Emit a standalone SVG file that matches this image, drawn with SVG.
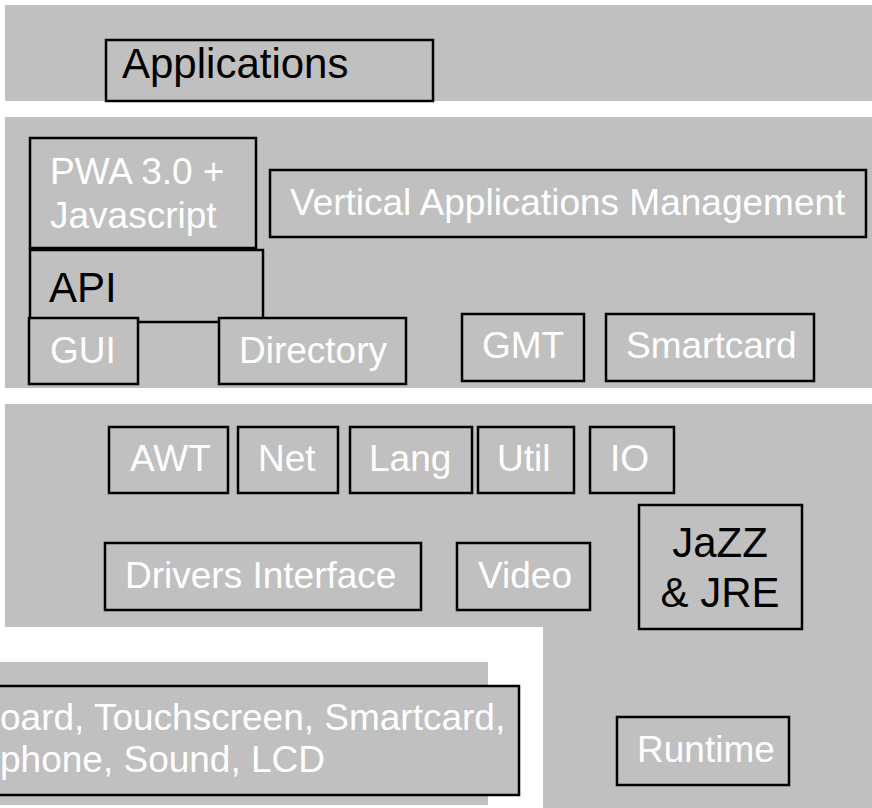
<svg xmlns="http://www.w3.org/2000/svg" width="872" height="808" viewBox="0 0 872 808">
<style>
.band{fill:#c0c0c0;stroke:none}
.box{fill:#c0c0c0;stroke:#000;stroke-width:2.5}
text{font-family:"Liberation Sans",Arial,sans-serif;font-size:37px}
.w{fill:#fff}
.k{fill:#000;font-size:42px}
</style>
<rect width="872" height="808" fill="#fff"/>
<g id="bands">
<rect class="band" x="5" y="5" width="867" height="96"/>
<rect class="band" x="5" y="117" width="867" height="271"/>
<rect class="band" x="5" y="404" width="867" height="223"/>
<rect class="band" x="543" y="620" width="329" height="188"/>
<rect class="band" x="0" y="662" width="488" height="143"/>
</g>
<g id="applications"><rect class="box" x="106" y="40" width="327" height="61"/><text class="k" x="122" y="78">Applications</text></g>
<g id="pwa"><rect class="box" x="30" y="138" width="226" height="110"/><text class="w" x="50" y="184">PWA 3.0 +</text><text class="w" x="50" y="228">Javascript</text></g>
<g id="vam"><rect class="box" x="270" y="170" width="596" height="67"/><text class="w" x="290" y="215">Vertical Applications Management</text></g>
<g id="api"><rect class="box" x="30" y="250" width="233" height="72"/><text class="k" x="49" y="302">API</text></g>
<g id="gui"><rect class="box" x="29" y="318" width="109" height="66"/><text class="w" x="50" y="363">GUI</text></g>
<g id="directory"><rect class="box" x="219" y="318" width="187" height="66"/><text class="w" x="239" y="363">Directory</text></g>
<g id="gmt"><rect class="box" x="462" y="314" width="122" height="67"/><text class="w" x="482" y="358">GMT</text></g>
<g id="smartcard"><rect class="box" x="606" y="314" width="208" height="67"/><text class="w" x="626" y="358">Smartcard</text></g>
<g id="awt"><rect class="box" x="109" y="427" width="119" height="66"/><text class="w" x="130" y="471">AWT</text></g>
<g id="net"><rect class="box" x="238" y="427" width="100" height="66"/><text class="w" x="258" y="471">Net</text></g>
<g id="lang"><rect class="box" x="350" y="427" width="122" height="66"/><text class="w" x="369" y="471">Lang</text></g>
<g id="util"><rect class="box" x="478" y="427" width="96" height="66"/><text class="w" x="497" y="471">Util</text></g>
<g id="io"><rect class="box" x="590" y="427" width="84" height="66"/><text class="w" x="610" y="471">IO</text></g>
<g id="drivers"><rect class="box" x="105" y="543" width="316" height="67"/><text class="w" x="125" y="588">Drivers Interface</text></g>
<g id="video"><rect class="box" x="457" y="543" width="133" height="67"/><text class="w" x="478" y="588">Video</text></g>
<g id="jazz"><rect class="box" x="639" y="505" width="163" height="124"/><text class="k" x="720" y="557" text-anchor="middle">JaZZ</text><text class="k" x="720" y="607" text-anchor="middle">&amp; JRE</text></g>
<g id="hardware"><rect class="box" x="-5" y="686" width="524" height="109"/><text class="w" x="0" y="730">oard, Touchscreen, Smartcard,</text><text class="w" x="0" y="772">phone, Sound, LCD</text></g>
<g id="runtime"><rect class="box" x="617" y="717" width="172" height="68"/><text class="w" x="637" y="762">Runtime</text></g>
<g id="connectors"></g>
</svg>
